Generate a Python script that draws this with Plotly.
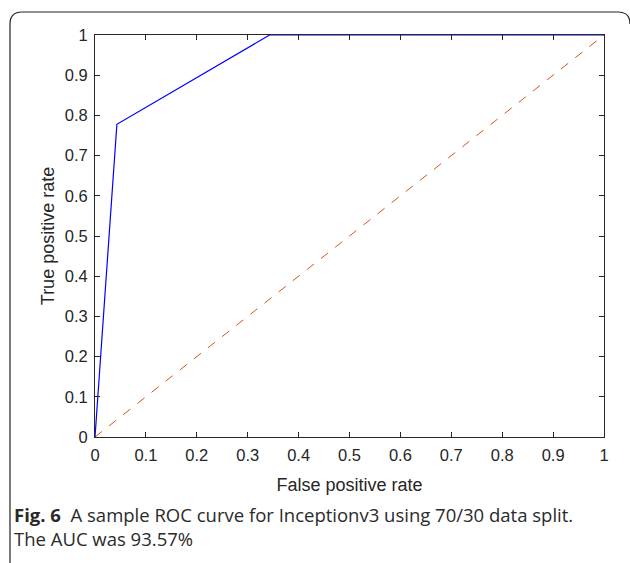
import plotly.graph_objects as go

# ROC data
fpr = [0.0, 0.043, 0.343, 1.0]
tpr = [0.0, 0.778, 1.0, 1.0]
chance_x = [0.0, 1.0]
chance_y = [0.0, 1.0]
tick_vals = [0, 0.1, 0.2, 0.3, 0.4, 0.5, 0.6, 0.7, 0.8, 0.9, 1]
tick_text = ["0", "0.1", "0.2", "0.3", "0.4", "0.5", "0.6", "0.7", "0.8", "0.9", "1"]

W, H = 630, 563
ML, MR, MT, MB = 95, 26, 35, 126
PW, PH = W - ML - MR, H - MT - MB

def px(x):
    return (x - ML) / PW

def py(y):
    return (H - MB - y) / PH

fig = go.Figure()
fig.add_trace(go.Scatter(x=chance_x, y=chance_y, mode="lines",
                         line=dict(color="#D95319", width=1, dash="dash"),
                         showlegend=False, hoverinfo="skip"))
fig.add_trace(go.Scatter(x=fpr, y=tpr, mode="lines",
                         line=dict(color="#0000FF", width=1.2),
                         showlegend=False))

axis_common = dict(range=[0, 1], tickvals=tick_vals, ticktext=tick_text,
                   showgrid=False, zeroline=False, showline=True, mirror="ticks",
                   linecolor="#262626", linewidth=1, ticks="inside", ticklen=5,
                   tickcolor="#262626", ticklabelstandoff=3,
                   tickfont=dict(family="Liberation Sans, Arial", size=16.5, color="#262626"))

fig.update_xaxes(**axis_common,
                 title=dict(text="False positive rate", standoff=15,
                            font=dict(family="Liberation Sans, Arial", size=18, color="#262626")))
fig.update_yaxes(**axis_common,
                 title=dict(text="True positive rate", standoff=5,
                            font=dict(family="Liberation Sans, Arial", size=18, color="#262626")))

# rounded frame around the figure
r = 12
x0, x1, y0, y1 = 10, 630, 12, 590
path = (f"M {px(x0)} {py(y1)} L {px(x0)} {py(y0 + r)} "
        f"Q {px(x0)} {py(y0)} {px(x0 + r)} {py(y0)} "
        f"L {px(x1 - r)} {py(y0)} Q {px(x1)} {py(y0)} {px(x1)} {py(y0 + r)}")
fig.add_shape(type="path", path=path, xref="paper", yref="paper",
              line=dict(color="#222222", width=1.2))

cap_font = dict(family="Open Sans", size=18.5, color="#2a2a2a")
fig.add_annotation(x=px(12), y=py(514), xref="paper", yref="paper",
                   xanchor="left", yanchor="middle", showarrow=False,
                   text="<b>Fig. 6</b>  A sample ROC curve for Inceptionv3 using 70/30 data split.",
                   font=cap_font)
fig.add_annotation(x=px(12), y=py(538), xref="paper", yref="paper",
                   xanchor="left", yanchor="middle", showarrow=False,
                   text="The AUC was 93.57%", font=cap_font)

fig.update_layout(width=W, height=H, margin=dict(l=ML, r=MR, t=MT, b=MB),
                  plot_bgcolor="white", paper_bgcolor="white")

fig.write_html("out.html", config={"displayModeBar": False},
               post_script="document.body.style.margin='0';document.body.style.overflow='hidden';")
